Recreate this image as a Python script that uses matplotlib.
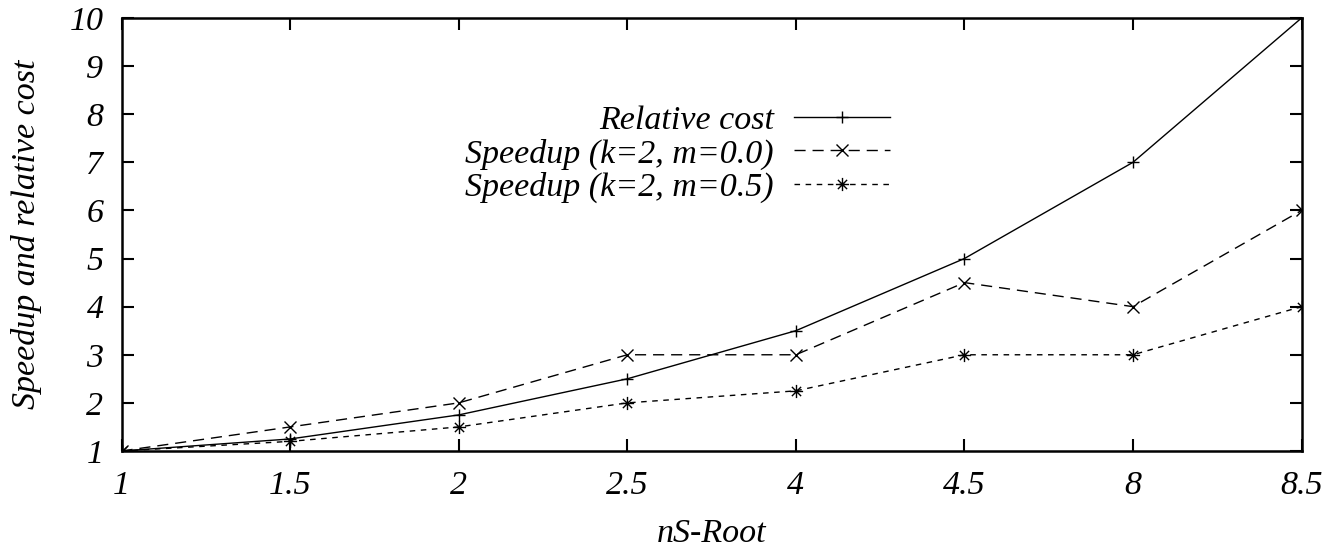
import matplotlib
matplotlib.use('Agg')
import matplotlib.pyplot as plt
from matplotlib.path import Path

# valores
x_labels = ['1', '1.5', '2', '2.5', '4', '4.5', '8', '8.5']
relative_cost = [1, 1.25, 1.75, 2.5, 3.5, 5, 7, 10]
speedup_m00 = [1, 1.5, 2, 3, 3, 4.5, 4, 6]
speedup_m05 = [1, 1.2, 1.5, 2, 2.25, 3, 3, 4]

plt.rcParams['font.family'] = 'Liberation Serif'
plt.rcParams['font.style'] = 'italic'
plt.rcParams['font.size'] = 24.5

# marcador tipo gnuplot: + y x juntos
star = Path([(-1, 0), (1, 0), (0, -1), (0, 1), (-0.7, -0.7), (0.7, 0.7), (-0.7, 0.7), (0.7, -0.7)],
            [Path.MOVETO, Path.LINETO] * 4)

fig = plt.figure(figsize=(13.4, 5.55), dpi=100)
ax = fig.add_axes([0.0907, 0.1874, 0.8806, 0.7802])

pos = list(range(len(x_labels)))
ax.plot(pos, relative_cost, color='black', lw=1.0, marker='+', ms=9, mew=1.0,
        label='Relative cost')
ax.plot(pos, speedup_m00, color='black', lw=1.0, ls=(0, (8, 5)), marker='x', ms=8.5, mew=1.0,
        label='Speedup (k=2, m=0.0)')
ax.plot(pos, speedup_m05, color='black', lw=1.0, ls=(0, (4, 4)), marker=star, ms=9.5, mew=1.0,
        label='Speedup (k=2, m=0.5)')

ax.set_xlim(0, len(x_labels) - 1)
ax.set_ylim(1, 10)
ax.set_xticks(pos)
ax.set_xticklabels(x_labels)
ax.set_yticks(range(1, 11))
ax.tick_params(direction='in', length=8.5, width=1.5, top=True, right=True)
ax.tick_params(axis='x', pad=14)
ax.tick_params(axis='y', pad=13)
for s in ax.spines.values():
    s.set_linewidth(1.8)

ax.set_xlabel('nS-Root', labelpad=13)
ax.set_ylabel('Speedup and relative cost', labelpad=20)

ax.legend(loc='upper right', bbox_to_anchor=(0.6654, 0.838), frameon=False, markerfirst=False,
          handlelength=2.8, handletextpad=0.6, labelspacing=0.07, borderpad=0)

fig.savefig('out.png', dpi=100)
